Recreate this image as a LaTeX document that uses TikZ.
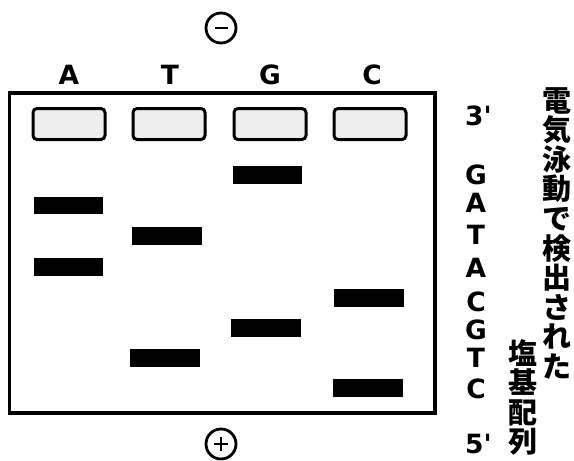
\documentclass[tikz,border=0pt]{standalone}
\usepackage{fontspec}
\setmainfont{DejaVu Sans}
\newfontfamily\labfont{DejaVu Sans}
\newfontfamily\jpfont{Noto Sans CJK JP}
\begin{document}
\begin{tikzpicture}[x=1pt,y=-1pt,
  gel/.style={draw=black,line width=3.5pt},
  well/.style={draw=black,line width=3pt,rounded corners=4pt,fill=black!7},
  band/.style={fill=black},
  pole/.style={draw=black,line width=2.8pt},
  lab/.style={font=\labfont\fontsize{26.5}{26.5}\selectfont\bfseries,inner sep=0pt,anchor=base},
  jp/.style={font=\jpfont\fontsize{29}{29}\selectfont\bfseries,inner sep=0pt,anchor=base}]
\useasboundingbox (0,0) rectangle (574,461);
% gel
\draw[gel] (9.5,93) rectangle (435,413);
% wells
\draw[well] (33,108.5) rectangle (105,139.5);
\draw[well] (133,108.5) rectangle (205,139.5);
\draw[well] (234,108.5) rectangle (306,139.5);
\draw[well] (334,108.5) rectangle (406,139.5);
% bands
\fill[band] (34,197) rectangle (103,214);
\fill[band] (132,227) rectangle (202,245);
\fill[band] (34,258) rectangle (103,276);
\fill[band] (233,166) rectangle (302,184);
\fill[band] (231,319) rectangle (301,337);
\fill[band] (130,349) rectangle (200,367);
\fill[band] (334,289) rectangle (404,307);
\fill[band] (333,379) rectangle (403,397);
% poles
\node[pole,circle,minimum size=30pt,inner sep=0pt] (minus) at (221,28) {};
\draw[line width=2.5pt] ([xshift=-6.5pt]minus.center) -- ([xshift=6.5pt]minus.center);
\node[pole,circle,minimum size=30pt,inner sep=0pt] (plus) at (221,444) {};
\draw[line width=2.5pt] ([xshift=-7pt]plus.center) -- ([xshift=7pt]plus.center);
\draw[line width=2.5pt] ([yshift=-7pt]plus.center) -- ([yshift=7pt]plus.center);
% lane labels
\node[lab] (lA) at (69,84) {A};
\node[lab] (lT) at (170,84) {T};
\node[lab] (lG) at (270,84) {G};
\node[lab] (lC) at (372,84) {C};
% sequence
\node[lab,anchor=base west] (p3) at (465,125) {3'};
\node[lab] (s1) at (476,184.5) {G};
\node[lab] (s2) at (476,212.5) {A};
\node[lab] (s3) at (476,244.5) {T};
\node[lab] (s4) at (476,277) {A};
\node[lab] (s5) at (476,311) {C};
\node[lab] (s6) at (476,339) {G};
\node[lab] (s7) at (476,367.5) {T};
\node[lab] (s8) at (476,398.5) {C};
\node[lab,anchor=base west] (p5) at (465,453) {5'};
% japanese vertical text
\foreach \c [count=\i] in {電,気,泳,動,で,検,出,さ,れ,た}
  \node[jp] (ja\i) at (557,{111+29.6*(\i-1)}) {\c};
\foreach \c [count=\i] in {塩,基,配,列}
  \node[jp] (jb\i) at (523,{364.5+29.3*(\i-1)}) {\c};
\end{tikzpicture}
\end{document}
